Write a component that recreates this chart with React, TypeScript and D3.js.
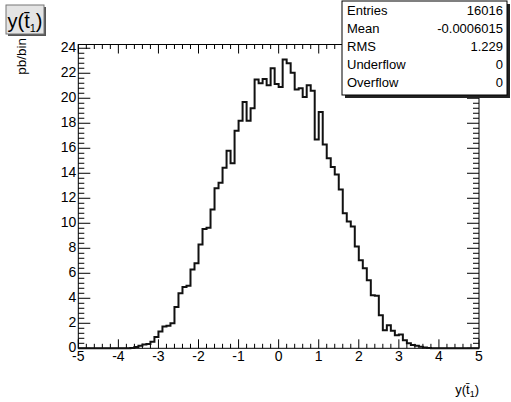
import React from "react";
import * as d3 from "d3";

// 100 bins from -5 to 5 (width 0.1), values in pb/bin
const binValues: number[] = [
  0, 0, 0, 0, 0, 0, 0, 0, 0, 0,
  0, 0, 0, 0.03, 0.1, 0.2, 0.3, 0.35, 0.53, 0.9,
  1.35, 1.75, 1.8, 2.0, 3.3, 4.4, 4.9, 5.0, 6.3, 6.8,
  8.3, 9.55, 9.65, 11.1, 12.8, 13.25, 14.45, 15.8, 14.8, 17.4,
  18.2, 19.7, 18.2, 19.2, 21.5, 21.2, 21.55, 21.05, 22.4, 21.15,
  20.9, 23.1, 22.8, 22.05, 20.7, 20.8, 20.1, 21.05, 20.6, 16.7,
  18.9, 16.3, 15.2, 14.5, 13.9, 12.7, 10.8, 10.15, 9.75, 8.15,
  7.05, 6.4, 5.45, 4.25, 4.2, 2.65, 1.45, 1.85, 1.4, 1.05,
  1.1, 0.65, 0.4, 0.27, 0.2, 0.13, 0.07, 0.03, 0, 0,
  0, 0, 0, 0, 0, 0, 0, 0, 0, 0,
];
const xMin = -5;
const xMax = 5;
const yMax = 24.3;
const xTickValues = [-5, -4, -3, -2, -1, 0, 1, 2, 3, 4, 5];
const yTickValues = [0, 2, 4, 6, 8, 10, 12, 14, 16, 18, 20, 22, 24];
const statLabels = ["Entries", "Mean", "RMS", "Underflow", "Overflow"];
const statValues = ["16016", "-0.0006015", "1.229", "0", "0"];

const W = 511;
const H = 402;
const FONT = "'Liberation Sans', Arial, Helvetica, sans-serif";

export default function App() {
  const left = 78.3;
  const right = 479;
  const top = 44.5;
  const bottom = 348.3;
  const x = d3.scaleLinear().domain([xMin, xMax]).range([left, right]);
  const y = d3.scaleLinear().domain([0, yMax]).range([bottom, top]);

  const nb = binValues.length;
  const bw = (xMax - xMin) / nb;
  const pts: [number, number][] = binValues.map((v, i) => [xMin + i * bw, v]);
  pts.push([xMax, binValues[nb - 1]]);
  const line = d3
    .line<[number, number]>()
    .x((d) => x(d[0]))
    .y((d) => y(d[1]))
    .curve(d3.curveStepAfter);
  const path = line(pts) || "";

  const xMinor = d3.range(xMin, xMax + 1e-9, 0.2);
  const yMinor = d3.range(0, yMax, 0.4);

  const majX = 9;
  const minX = 4.5;
  const majY = 12;
  const minY = 6;

  return (
    <svg
      width={W}
      height={H}
      style={{ position: "absolute", left: 0, top: 0, background: "#fff" }}
      fontFamily={FONT}
    >
      <rect x={0} y={0} width={W} height={H} fill="#fff" />
      {/* frame */}
      <rect x={left} y={top} width={right - left} height={bottom - top} fill="none" stroke="#000" strokeWidth={1} />

      {/* x ticks bottom and top */}
      {xMinor.map((v, i) => {
        const isMaj = Math.abs(v - Math.round(v)) < 1e-6;
        const len = isMaj ? majX : minX;
        const xx = x(v);
        return (
          <g key={"xt" + i} stroke="#000" strokeWidth={1}>
            <line x1={xx} x2={xx} y1={bottom} y2={bottom - len} />
            <line x1={xx} x2={xx} y1={top} y2={top + len} />
          </g>
        );
      })}
      {/* y ticks left and right */}
      {yMinor.map((v, i) => {
        const isMaj = Math.abs(v / 2 - Math.round(v / 2)) < 1e-6;
        const len = isMaj ? majY : minY;
        const yy = y(v);
        return (
          <g key={"yt" + i} stroke="#000" strokeWidth={1}>
            <line x1={left} x2={left + len} y1={yy} y2={yy} />
            <line x1={right} x2={right - len} y1={yy} y2={yy} />
          </g>
        );
      })}

      {/* x tick labels */}
      {xTickValues.map((v) => (
        <text key={"xl" + v} x={x(v)} y={bottom + 13} fontSize={14} textAnchor="middle" fill="#000">
          {String(v)}
        </text>
      ))}
      {/* y tick labels */}
      {yTickValues.map((v) => (
        <text key={"yl" + v} x={left - 2} y={y(v) + 4} fontSize={14} textAnchor="end" fill="#000">
          {String(v)}
        </text>
      ))}

      {/* histogram */}
      <path d={path} fill="none" stroke="#111" strokeWidth={2} strokeLinejoin="miter" />

      {/* y axis title */}
      <text transform={`translate(26,38) rotate(-90)`} fontSize={13.5} textAnchor="end" fill="#000">
        pb/bin
      </text>

      {/* x axis title */}
      <text x={right} y={394} fontSize={13} textAnchor="end" fill="#000">
        {"y(t\u0304"}
        <tspan fontSize={9} dy={3}>1</tspan>
        <tspan dy={-3}>)</tspan>
      </text>

      {/* title box */}
      <rect x={8} y={7} width={38} height={29} fill="#555" />
      <rect x={6} y={5} width={38} height={29} fill="#e4e4e4" stroke="#777" strokeWidth={1} />
      <text x={25} y={28} fontSize={20} textAnchor="middle" fill="#000">
        {"y(t\u0304"}
        <tspan fontSize={11} dy={4}>1</tspan>
        <tspan dy={-4}>)</tspan>
      </text>

      {/* stats box */}
      <rect x={345} y={4} width={165} height={94} fill="#222" />
      <rect x={342} y={1} width={165} height={94} fill="#fff" stroke="#000" strokeWidth={1} />
      {statLabels.map((s, i) => (
        <g key={"st" + i}>
          <text x={347} y={15 + i * 18} fontSize={13} fill="#000">
            {s}
          </text>
          <text x={503} y={15 + i * 18} fontSize={13} textAnchor="end" fill="#000">
            {statValues[i]}
          </text>
        </g>
      ))}
    </svg>
  );
}
